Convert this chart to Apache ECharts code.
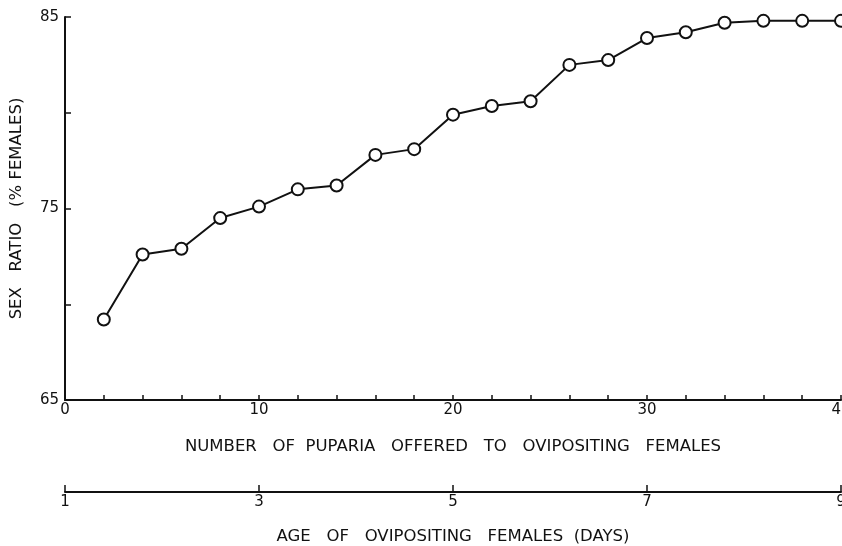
<!DOCTYPE html>
<html>
<head>
<meta charset="utf-8">
<script src="https://cdn.jsdelivr.net/npm/echarts@6/dist/echarts.min.js"></script>
<style>
  html, body { margin: 0; padding: 0; background: #fff; }
  #chart { width: 842px; height: 546px; }
</style>
</head>
<body>
<div id="chart"></div>
<script>
// number of puparia offered vs. sex ratio
var puparia = [2, 4, 6, 8, 10, 12, 14, 16, 18, 20, 22, 24, 26, 28, 30, 32, 34, 36, 38, 40];
var sexRatio = [69.2, 72.6, 72.9, 74.5, 75.1, 76.0, 76.2, 77.8, 78.1, 79.9,
                80.35, 80.6, 82.5, 82.75, 83.9, 84.2, 84.7, 84.8, 84.8, 84.8];
var yLabels = [65, 75, 85];
var xLabels = [0, 10, 20, 30, 40];
var ageLabels = [1, 3, 5, 7, 9];

var ink = '#111';
var font = 'DejaVu Sans';

var points = puparia.map(function (p, i) { return [p, sexRatio[i]]; });

var chart = echarts.init(document.getElementById('chart'));

chart.setOption({
    backgroundColor: '#fff',
    animation: false,
    grid: [
        { left: 65, right: 1, top: 17, bottom: 146, outerBoundsMode: 'none' },
        { left: 65, right: 1, top: 491, height: 1, outerBoundsMode: 'none' }
    ],
    xAxis: [
        {
            gridIndex: 0,
            type: 'value',
            min: 0, max: 40, interval: 2,
            name: 'NUMBER   OF  PUPARIA   OFFERED   TO   OVIPOSITING   FEMALES',
            nameLocation: 'middle',
            nameGap: 38,
            nameTextStyle: { color: ink, fontFamily: font, fontSize: 16.5 },
            axisLine: { lineStyle: { color: ink, width: 2 } },
            axisTick: { inside: true, length: 5, lineStyle: { color: ink, width: 1.5 } },
            axisLabel: {
                color: ink, fontFamily: font, fontSize: 15, margin: 3,
                formatter: function (v) { return xLabels.indexOf(v) >= 0 ? String(v) : ''; }
            },
            splitLine: { show: false }
        },
        {
            gridIndex: 1,
            type: 'value',
            min: 1, max: 9, interval: 2,
            name: 'AGE   OF   OVIPOSITING   FEMALES  (DAYS)',
            nameLocation: 'middle',
            nameGap: 36,
            nameTextStyle: { color: ink, fontFamily: font, fontSize: 16.5 },
            axisLine: { lineStyle: { color: ink, width: 2 } },
            axisTick: { inside: true, length: 7, lineStyle: { color: ink, width: 1.5 } },
            axisLabel: {
                color: ink, fontFamily: font, fontSize: 15, margin: 3,
                formatter: function (v) { return ageLabels.indexOf(v) >= 0 ? String(v) : ''; }
            },
            splitLine: { show: false }
        }
    ],
    yAxis: [
        {
            gridIndex: 0,
            type: 'value',
            min: 65, max: 85, interval: 5,
            name: 'SEX   RATIO   (% FEMALES)',
            nameLocation: 'middle',
            nameGap: 40,
            nameRotate: 90,
            nameTextStyle: { color: ink, fontFamily: font, fontSize: 16.5 },
            axisLine: { show: true, lineStyle: { color: ink, width: 2 } },
            axisTick: { show: true, inside: true, length: 6, lineStyle: { color: ink, width: 1.5 } },
            axisLabel: {
                color: ink, fontFamily: font, fontSize: 15, margin: 6,
                formatter: function (v) { return yLabels.indexOf(v) >= 0 ? String(v) : ''; }
            },
            splitLine: { show: false }
        },
        {
            gridIndex: 1,
            type: 'value',
            min: 0, max: 1,
            show: false
        }
    ],
    series: [
        {
            type: 'line',
            xAxisIndex: 0,
            yAxisIndex: 0,
            data: points,
            clip: false,
            symbol: 'circle',
            symbolSize: 12,
            itemStyle: { color: '#fff', borderColor: ink, borderWidth: 2 },
            lineStyle: { color: ink, width: 2 }
        }
    ]
});
</script>
</body>
</html>
